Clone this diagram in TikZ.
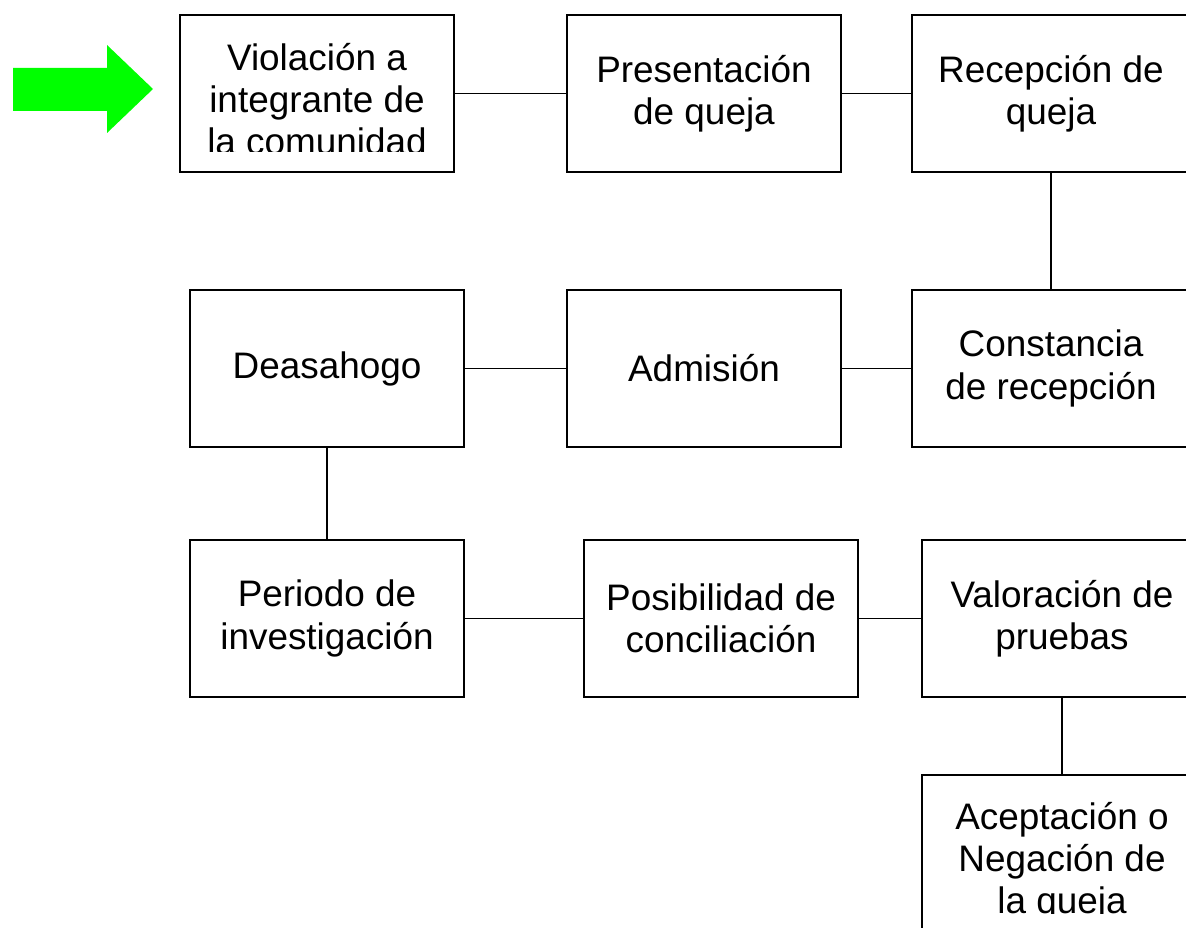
\documentclass[tikz,border=0pt]{standalone}
\usepackage{fontspec}
\setmainfont{Liberation Sans}
\definecolor{verde}{RGB}{0,255,0}

\begin{document}
\begin{tikzpicture}[x=0.02cm,y=-0.02cm,
  caja/.style={draw,line width=1.1pt,inner sep=0pt,align=center,minimum width=5.48cm,
    minimum height=3.14cm,font=\fontsize{21}{24}\selectfont},
  texto/.style={inner sep=0pt,align=center,font=\fontsize{21}{24}\selectfont},
  linea/.style={line width=1pt}]
\useasboundingbox (0,0) rectangle (1186,928);
\clip (0,0) rectangle (1186,928);
% flecha verde
\fill [verde] (13,68)--(107,68)--(107,45)--(153,89)--(107,133)--(107,111)--(13,111)--cycle;
% primera fila
\node [caja] (viol) at (317,93.5) {};
\begin{scope}
\clip (182,17) rectangle (452,152);
\node [texto] (violtxt) at (317,99) {Violación a\\integrante de\\la comunidad};
\end{scope}
\node [caja] (pres) at (704,93.5) {Presentación\\de queja};
\node [caja,minimum width=5.56cm] (recep) at (1051,93.5) {Recepción de\\queja};
% segunda fila
\node [caja] (desah) at (327,368.5) {Deasahogo};
\node [caja] (admis) at (704,368.5) {Admisión};
\node [caja,minimum width=5.56cm] (const) at (1051,368.5) {Constancia\\de recepción};
% tercera fila
\node [caja] (period) at (327,618.5) {Periodo de\\investigación};
\node [caja] (posib) at (721,618.5) {Posibilidad de\\conciliación};
\node [caja,minimum width=5.6cm] (valor) at (1062,618.5) {Valoración de\\pruebas};
\node [caja,minimum width=5.6cm] (acept) at (1062,853.5) {};
\begin{scope}
\clip (924,777) rectangle (1200,913);
\node [texto] (acepttxt) at (1062,862) {Aceptación o\\Negación de\\la queja};
\end{scope}
% conexiones
\draw [linea] (viol)--(pres);
\draw [linea] (pres)--(recep);
\draw [linea] (recep)--(const);
\draw [linea] (admis)--(const);
\draw [linea] (desah)--(admis);
\draw [linea] (desah)--(period);
\draw [linea] (period)--(posib);
\draw [linea] (posib)--(valor);
\draw [linea] (valor)--(acept);
\end{tikzpicture}
\end{document}
